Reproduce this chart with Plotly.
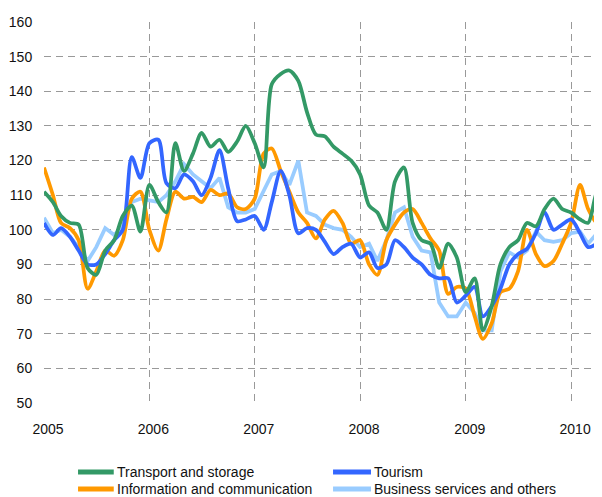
import plotly.graph_objects as go
import pandas as pd

months = pd.date_range("2005-01-01", periods=65, freq="MS").strftime("%Y-%m-%d").tolist()

transport = [111, 108, 104, 102, 101.5, 89, 87, 94, 97, 104, 107, 99.5,
             113, 108, 105, 125, 117, 122, 128, 124, 126, 122.5, 125.5, 130,
             125, 118, 142, 145, 146, 143, 134, 127.5, 127, 124, 122, 120,
             116, 107, 105, 100, 114, 118, 102, 97, 96, 89, 96, 92,
             82, 86, 71, 78, 90, 95, 97, 102, 101, 106, 109, 106,
             105, 103, 102, 111, 113]

information = [118, 110, 102, 100.5, 97, 83, 88, 94, 92.5, 97, 109, 111,
               100, 94, 103, 111, 109, 109.5, 108, 111.5, 110, 110.5, 106.5, 106,
               109, 122, 123.5, 117, 111, 105, 102, 97.5, 103, 105.5, 102, 96,
               97, 90, 87, 97, 101.5, 105, 106, 102, 97.5, 94, 81.5, 83.5,
               83, 75, 68.5, 73, 82, 83, 88, 100, 93, 89.5, 91, 96,
               102, 113, 106, 102, 103]

tourism = [102, 98.5, 100.5, 98, 94, 90, 90, 93, 97, 100, 121, 115,
           125, 126, 113.5, 112, 116, 114, 110, 115, 123, 112, 102.5, 103,
           104, 100, 108, 117, 110, 99, 100.5, 100, 96.5, 93, 95, 96,
           92, 93.5, 89, 90, 97, 95, 92, 90, 87, 86, 86, 79,
           81, 83.5, 75, 78, 83, 90, 93, 94.5, 99, 105, 100, 101.5,
           103, 99, 95, 96, 97.5]

business = [103.5, 99, 100, 98, 95, 91, 95, 100.5, 98.5, 101, 108, 109,
            108.5, 108, 110, 114, 119, 116, 114, 112, 115, 106.5, 105, 105,
            106, 111, 116, 117, 113, 120, 105, 104, 101.5, 100.5, 100, 98,
            95, 96, 91, 97, 105, 106.5, 98, 94, 93.5, 79, 75, 75,
            79, 76, 71, 71, 88, 93.5, 92, 94, 99.5, 97, 96.5, 97,
            99, 99.5, 96, 99, 102]

names = ["Transport and storage", "Tourism",
         "Information and communication", "Business services and others"]
values = [transport, tourism, information, business]
colors = ["#339966", "#3366FF", "#FF9900", "#99CCFF"]
shapes_ = ["spline", "spline", "spline", "linear"]
zorders = [4, 3, 2, 1]

# legend slots (paper coords): two columns, two rows
leg_cols = [(0.061, 0.125, 0.129), (0.518, 0.586, 0.590)]
leg_rows = [-0.181, -0.226]
leg_slots = [(0, 0), (1, 0), (0, 1), (1, 1)]

fig = go.Figure()
for name, vals, color, shp, z in zip(names, values, colors, shapes_, zorders):
    fig.add_trace(go.Scatter(
        x=months, y=vals, name=name, mode="lines",
        line=dict(color=color, width=3.75, shape=shp, smoothing=0.8),
        zorder=z, showlegend=False,
    ))

font = dict(family="Liberation Sans, Arial, sans-serif", size=14, color="#111111")

for (ci, ri), name, color in zip(leg_slots, names, colors):
    x0, x1, xt = leg_cols[ci]
    yy = leg_rows[ri]
    fig.add_shape(type="line", xref="paper", yref="paper",
                  x0=x0, x1=x1, y0=yy, y1=yy,
                  line=dict(color=color, width=5))
    fig.add_annotation(xref="paper", yref="paper", x=xt, y=yy,
                       xanchor="left", yanchor="middle", text=name,
                       showarrow=False, font=font, borderpad=0)

# the page has an 8px body margin, so the figure is 8px smaller than the window
fig.update_layout(
    width=594, height=489,
    margin=dict(l=36, r=0, t=14, b=94),
    paper_bgcolor="white", plot_bgcolor="white",
    font=font,
    showlegend=False,
    xaxis=dict(
        type="date",
        range=["2005-01-01", "2010-04-18"],
        dtick="M12", tick0="2005-01-01", tickformat="%Y",
        showgrid=True, gridcolor="#999999", gridwidth=1, griddash="7px,5px",
        showline=True, linecolor="#A0A0A0", linewidth=3, mirror=True,
        ticks="outside", ticklen=11, tickcolor="rgba(0,0,0,0)",
        ticklabelshift=4,
        zeroline=False, automargin=False,
    ),
    yaxis=dict(
        range=[50, 160], dtick=10, tick0=50,
        showgrid=True, gridcolor="#999999", gridwidth=1, griddash="7px,5px",
        showline=True, linecolor="#A0A0A0", linewidth=3,
        ticks="outside", ticklen=6, tickcolor="rgba(0,0,0,0)",
        zeroline=False, automargin=False,
    ),
)

fig.write_html("out.html")
